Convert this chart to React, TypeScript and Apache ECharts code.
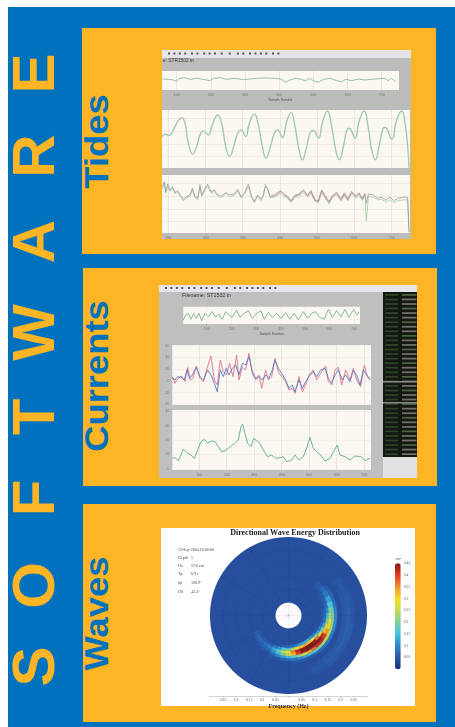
import React, { useEffect, useRef } from "react";
import * as echarts from "echarts";

// ---------- headings ----------
const sideLetters = ["S", "O", "F", "T", "W", "A", "R", "E"];
const sectionTitles = ["Tides", "Currents", "Waves"];
const waveInfo = [
  ["13-Sep-2004 16:00:00", ""],
  ["Depth", "5"],
  ["Hs", "57.6 cm"],
  ["Tp", "6.9 s"],
  ["θp", "168.9°"],
  ["DS", "42.3°"],
];
const sampleTickLabels = ["100", "200", "300", "400", "500", "600", "700"];

// ---------- tides: values in reading units ----------
const tideOverviewTicks = [65, 168, 270, 372, 475, 578, 680];
const tideTicks = [40, 152, 263, 375, 487, 598, 710];
const tideOverview = [[22,83],[40,82],[55,80],[65,75],[72,85],[90,87],[105,82],[125,85],[145,82],[165,78],[175,85],[195,87],[215,82],[240,85],[265,81],[285,83],[305,85],[330,86],[360,85],[378,83],[392,73],[405,80],[420,85],[440,82],[452,77],[462,85],[475,78],[490,73],[505,82],[525,85],[545,78],[560,75],[572,82],[590,78],[610,83],[630,80],[650,82],[670,84],[690,85],[700,78],[710,85],[722,75]];
const tideLevel = [[22,110],[30,117],[42,113],[55,130],[68,155],[80,167],[90,150],[100,90],[113,57],[125,80],[135,115],[145,127],[160,115],[172,145],[188,175],[200,150],[212,80],[224,50],[236,80],[248,120],[258,130],[272,110],[283,150],[298,178],[310,145],[322,80],[333,45],[345,75],[358,120],[368,130],[382,107],[395,155],[408,182],[420,140],[432,70],[442,40],[454,75],[465,120],[475,128],[490,105],[503,155],[517,187],[530,140],[543,65],[553,40],[565,80],[575,128],[582,135],[600,105],[612,155],[627,187],[640,135],[650,70],[661,40],[673,85],[683,130],[690,138],[710,102],[725,160],[740,187],[750,150],[758,80],[762,16]];
const tideLevelTicks = [49, 88, 127, 165];
const residualX = [22,28,32,38,45,52,60,68,76,85,95,105,112,120,128,135,140,150,158,168,178,188,200,212,225,238,248,258,268,280,290,298,308,318,325,331,338,345,358,370,378,388,398,408,420,432,445,458,468,480,490,500,510,522,532,545,558,568,578,590,602,612,622,630,634,640,655,668,680,692,705,716,730,745,758,762];
const residualDark = [160,175,145,168,150,160,142,148,135,122,130,135,155,130,125,160,135,155,167,145,150,135,132,142,135,138,152,130,140,168,130,115,135,122,135,160,155,130,132,140,145,135,128,115,132,135,148,132,145,118,115,148,130,112,130,140,120,138,120,142,130,138,122,138,110,138,135,125,128,120,128,118,125,128,128,22];
const residualGreen = [152,170,140,160,146,155,138,143,130,118,126,130,150,126,120,168,130,150,160,140,146,130,128,138,130,134,147,126,136,160,126,112,130,118,130,168,150,126,128,136,140,130,124,112,128,130,142,128,140,115,112,142,126,108,126,136,116,133,117,138,126,132,118,132,55,130,128,120,122,114,120,112,118,120,120,22];
const residualRedX = [350,358,370,378,388,398,408,420,432,445,458,468,480,490,500,510,522,532,545,558,568,578,590,602,612,622,630];
const residualRed = [134,134,144,147,137,130,118,134,138,150,134,148,120,117,150,134,115,133,143,123,141,123,145,133,141,125,140];
const residualTicks = [55, 93, 132, 170];

// ---------- currents ----------
const currentOverviewTicks = [155, 230, 303, 378, 450, 523, 597];
const currentTicks = [133, 215, 298, 380, 462, 545, 628];
const currentOverview = [[85,80],[92,95],[100,100],[108,82],[116,100],[124,85],[132,100],[140,78],[150,100],[160,90],[172,105],[182,88],[192,98],[202,82],[212,105],[222,95],[232,88],[245,110],[255,88],[268,100],[280,108],[292,85],[305,100],[318,108],[328,82],[340,103],[352,88],[365,100],[378,85],[392,102],[405,82],[418,100],[430,80],[445,105],[458,85],[470,100],[482,105],[494,88],[508,82],[520,112],[532,88],[545,108],[558,90],[570,112],[582,88],[596,112],[606,95],[612,105]];
const currentBlue = [[52,208],[60,200],[68,210],[78,208],[88,200],[96,230],[104,205],[112,215],[124,238],[135,210],[146,200],[158,230],[168,215],[178,190],[187,165],[196,230],[205,210],[214,235],[222,215],[232,235],[242,245],[252,215],[262,250],[272,245],[282,270],[292,225],[302,205],[312,210],[322,200],[332,215],[342,205],[352,230],[360,260],[370,235],[380,220],[392,200],[402,175],[412,185],[420,165],[432,200],[442,175],[452,195],[462,210],[475,225],[485,210],[497,230],[510,235],[520,205],[530,190],[540,215],[550,230],[562,200],[572,215],[585,195],[595,228],[605,215],[615,185],[625,230],[635,215],[645,202]];
const currentRed = [[52,210],[60,190],[70,205],[80,212],[90,195],[98,238],[106,200],[114,205],[124,242],[135,205],[145,195],[157,238],[168,272],[178,200],[187,185],[196,260],[205,225],[214,215],[224,250],[234,210],[245,275],[252,200],[262,238],[272,230],[282,280],[292,220],[302,200],[312,215],[320,175],[332,230],[340,200],[350,210],[360,265],[370,225],[380,210],[392,195],[402,170],[412,175],[420,160],[432,210],[442,165],[452,185],[462,215],[475,230],[485,200],[497,220],[512,242],[520,195],[530,185],[540,230],[550,238],[560,185],[572,230],[585,200],[595,235],[605,200],[617,180],[628,245],[637,210],[645,200]];
const currentRedBlueTicks = [162, 197, 232, 268];
const currentRedBlueLabels = ["-40", "-20", "0", "20", "40", "60"];
const currentRedBlueLabelTicks = [127, 162, 197, 232, 268, 303];
const currentSpeed = [[52,65],[60,67],[70,58],[78,75],[85,93],[95,83],[108,75],[118,65],[128,90],[138,115],[148,122],[158,110],[170,117],[180,115],[190,100],[200,85],[210,88],[220,95],[232,105],[240,110],[250,120],[258,160],[263,167],[270,140],[278,110],[288,100],[296,125],[305,118],[315,110],[325,90],[338,70],[350,75],[362,65],[375,67],[385,70],[395,55],[410,60],[420,75],[432,60],[445,70],[455,95],[465,128],[475,95],[485,85],[497,75],[510,57],[525,65],[535,85],[547,105],[555,75],[570,70],[585,60],[600,72],[618,70],[630,58],[645,65]];
const currentSpeedTicks = [77, 120, 163];
const currentSpeedLabels = ["0", "10", "20", "30", "40"];
const currentSpeedLabelTicks = [33, 77, 120, 163, 207];

// ---------- waves ----------
const backgroundEnergy = 0.04;
const crescentFreqs = [0.12, 0.13, 0.14, 0.15, 0.16, 0.17, 0.18];
const crescentAngles = [-150,-142.5,-135,-127.5,-120,-112.5,-105,-97.5,-90,-82.5,-75,-67.5,-60,-52.5,-45,-37.5,-30,-22.5,-15,-7.5,0,7.5,15,22.5,30,37.5,45];
const crescentF12 = [.04,.04,.04,.04,.04,.04,.05,.06,.07,.08,.1,.12,.13,.13,.11,.08,.06,.05,.04,.04,.04,.04,.04,.04,.04,.04,.04];
const crescentF13 = [.05,.05,.05,.05,.06,.08,.11,.15,.18,.22,.28,.32,.33,.32,.28,.2,.13,.09,.06,.05,.05,.05,.04,.04,.04,.04,.04];
const crescentF14 = [.06,.07,.07,.08,.1,.13,.18,.24,.29,.36,.42,.45,.45,.45,.44,.37,.28,.18,.12,.08,.07,.06,.05,.05,.05,.04,.04];
const crescentF15 = [.05,.06,.06,.07,.08,.11,.15,.21,.26,.32,.4,.44,.45,.45,.45,.45,.41,.32,.26,.2,.15,.11,.08,.06,.06,.05,.05];
const crescentF16 = [.04,.04,.05,.05,.05,.07,.09,.12,.14,.17,.21,.27,.33,.37,.41,.42,.4,.35,.31,.28,.24,.2,.16,.12,.09,.07,.05];
const crescentF17 = [.04,.04,.04,.04,.04,.05,.05,.06,.07,.08,.1,.12,.14,.17,.2,.23,.25,.24,.23,.21,.2,.18,.15,.12,.09,.07,.05];
const crescentF18 = [.04,.04,.04,.04,.04,.04,.04,.04,.04,.05,.05,.05,.05,.06,.07,.08,.09,.09,.1,.1,.1,.09,.08,.07,.06,.05,.04];
const swellFreqs = [0.215, 0.23, 0.245];
const swellAngles = [-60, -45, -30, -15, 0, 15, 30];
const swellF215 = [.045, .05, .05, .05, .05, .05, .045];
const swellF230 = [.05, .055, .06, .06, .06, .055, .05];
const swellF245 = [.045, .05, .05, .055, .05, .05, .045];
const colourbarColours = ["#1c2c78", "#2a58a8", "#2f86cc", "#45c4e0", "#7fcf9a", "#c8dc50", "#f8e020", "#f29030", "#e03a20", "#861818"];

const FONT = '"Liberation Sans", Arial, sans-serif';
const SERIF = '"Liberation Serif", "Times New Roman", serif';
const BLUE = "#0071bc";
const GOLD = "#fdb525";
const toolbarMarks = [3, 7, 11, 15, 20, 24, 29, 33, 37, 42, 48, 54, 58, 63, 67, 71, 75, 80, 84];
const sideRowCount = 36;
const sideLetterRows = [666.5, 585.5, 498, 417, 332.5, 241.5, 156, 73.5];

type Pt = number[];

function makeBaseOption() {
  const rect = (x: number, y: number, width: number, height: number, fill: string) => ({
    type: "rect", shape: { x, y, width, height }, style: { fill }, silent: true,
  });
  const rotated = (text: string, x: number, y: number, fontSize: number, fill: string, stretch = 1) => ({
    type: "text", x, y, rotation: Math.PI / 2, scaleX: stretch, silent: true,
    style: { text, x: 0, y: 0, fontFamily: FONT, fontWeight: "bold", fontSize, fill, align: "center", verticalAlign: "middle" },
  });
  return {
    animation: false,
    graphic: {
      elements: [
        rect(8, 7, 447, 720, BLUE),
        rect(82, 28, 354, 226, GOLD),
        rect(83, 268, 354, 218, GOLD),
        rect(83, 504, 353, 218, GOLD),
        rect(162, 50, 249, 189, "#bcbcbc"),
        rect(162, 50, 249, 8, "#e4e4e8"),
        rect(159, 285, 258, 193, "#bfbfbf"),
        rect(159, 285, 258, 7, "#e6e6ea"),
        rect(383, 457, 34, 21, "#e2e2e4"),
        rect(161, 528, 254, 178, "#ffffff"),
        ...sideLetters.map((l, k) => rotated(l, 33, sideLetterRows[k], 60, GOLD)),
        rotated(sectionTitles[0], 96, 141.5, 34, BLUE, 1.07),
        rotated(sectionTitles[1], 96, 376, 34, BLUE, 1.07),
        rotated(sectionTitles[2], 96, 613.5, 34, BLUE, 1.07),
      ],
    },
  };
}

function makeScreensOption() {
  const grids: any[] = [];
  const xAxes: any[] = [];
  const yAxes: any[] = [];
  const series: any[] = [];

  function plot(o: {
    left: number; top: number; right: number; bottom: number;
    xRange: number[]; yRange: number[]; xTicks: number[]; yTicks?: number[];
    xLabels?: string[]; yLabelTicks?: number[]; yLabels?: string[]; bg?: string;
    hLine?: string; vLine?: string; name?: string;
  }) {
    const i = grids.length;
    grids.push({
      show: true, backgroundColor: o.bg || "#fbf8f2", borderWidth: 0,
      left: o.left, top: o.top, width: o.right - o.left, height: o.bottom - o.top,
    });
    const xl = o.xLabels;
    xAxes.push({
      type: "value", gridIndex: i, min: o.xRange[0], max: o.xRange[1],
      axisLine: { show: false },
      axisTick: { show: false, customValues: o.xTicks },
      splitLine: { show: true, lineStyle: { color: o.vLine || "#e2dfd8", width: 0.7 } },
      axisLabel: {
        show: !!xl, customValues: o.xTicks, fontSize: 3.6, color: "#777", margin: 3, fontFamily: FONT,
        formatter: (v: number) => (xl ? xl[o.xTicks.indexOf(v)] ?? "" : ""),
      },
      name: o.name, nameLocation: "middle", nameGap: 8,
      nameTextStyle: { fontSize: 3.4, color: "#555", fontFamily: FONT },
    });
    const yt = o.yLabelTicks || o.yTicks || [];
    const yl = o.yLabels;
    yAxes.push({
      type: "value", gridIndex: i, min: o.yRange[0], max: o.yRange[1],
      axisLine: { show: false },
      axisTick: { show: false, customValues: o.yLabelTicks || o.yTicks || [] },
      splitLine: { show: !!(o.yTicks && o.yTicks.length), lineStyle: { color: o.hLine || "#f0e2da", width: 0.7 } },
      axisLabel: {
        show: !!yl, customValues: yt, fontSize: 3.4, color: "#777", margin: 3, fontFamily: FONT,
        formatter: (v: number) => (yl ? yl[yt.indexOf(v)] ?? "" : ""),
      },
    });
    return i;
  }
  const line = (i: number, data: Pt[], color: string, width: number, smooth: number | boolean = false, z = 2) => {
    series.push({
      type: "line", xAxisIndex: i, yAxisIndex: i, data, showSymbol: false, silent: true, smooth, z,
      lineStyle: { color, width },
    });
  };
  const zip = (xs: number[], ys: number[]) => xs.map((x, k) => [x, ys[k]]);

  // tides
  const t1 = plot({ left: 162, top: 71, right: 399, bottom: 90, xRange: [21, 732], yRange: [50, 107], xTicks: tideOverviewTicks, xLabels: sampleTickLabels, name: "Sample Number" });
  line(t1, tideOverview, "#8fbb9f", 0.9);
  const t2 = plot({ left: 162, top: 110, right: 410, bottom: 168, xRange: [21, 765], yRange: [15, 190], xTicks: tideTicks, yTicks: tideLevelTicks });
  line(t2, tideLevel, "#a3c8b9", 1.4, 0.5);
  const t3 = plot({ left: 162, top: 175, right: 410, bottom: 233, xRange: [21, 765], yRange: [20, 195], xTicks: tideTicks, yTicks: residualTicks, xLabels: sampleTickLabels });
  line(t3, zip(residualX, residualGreen), "#a6caa2", 0.8);
  line(t3, zip(residualRedX, residualRed), "#c08a8e", 0.8, false, 3);
  line(t3, zip(residualX, residualDark), "#85848a", 0.6);

  // currents
  const c1 = plot({ left: 183.3, top: 306.7, right: 360, bottom: 324, xRange: [85, 615], yRange: [68, 120], xTicks: currentOverviewTicks, xLabels: sampleTickLabels, name: "Sample Number", vLine: "#e8e8e4" });
  line(c1, currentOverview, "#6fa98a", 0.8);
  const c2 = plot({ left: 172.3, top: 345, right: 371, bottom: 405, xRange: [52, 648], yRange: [125, 305], xTicks: currentTicks, yTicks: currentRedBlueTicks, yLabelTicks: currentRedBlueLabelTicks, yLabels: currentRedBlueLabels, hLine: "#ececec" });
  line(c2, currentRed, "#e2708c", 0.9);
  line(c2, currentBlue, "#5a78bc", 0.9);
  const c3 = plot({ left: 172.3, top: 410, right: 371, bottom: 470, xRange: [52, 648], yRange: [30, 210], xTicks: currentTicks, yTicks: currentSpeedTicks, yLabelTicks: currentSpeedLabelTicks, yLabels: currentSpeedLabels, xLabels: sampleTickLabels, hLine: "#ececec" });
  line(c3, currentSpeed, "#5cab92", 0.9);

  // colour bar axis
  const cbGrid = grids.length;
  grids.push({ left: 400.7, top: 563.3, width: 1, height: 105.7 });
  xAxes.push({ type: "value", gridIndex: cbGrid, show: false, min: 0, max: 1 });
  yAxes.push({
    type: "value", gridIndex: cbGrid, position: "right", min: 0, max: 0.45, interval: 0.05,
    axisLine: { show: false }, axisTick: { show: false }, splitLine: { show: false },
    axisLabel: {
      fontSize: 3.8, color: "#555", margin: 2, fontFamily: SERIF,
      formatter: (v: number) => (v === 0 ? "" : String(+v.toFixed(2))),
    },
  });

  // frequency axis
  const fGrid = grids.length;
  grids.push({ left: 210, top: 695, width: 157, height: 1 });
  xAxes.push({
    type: "value", gridIndex: fGrid, min: -0.3, max: 0.3, interval: 0.05,
    axisLine: { show: true, onZero: false, lineStyle: { color: "#aaa", width: 0.5 } },
    axisTick: { show: true, length: 1.5, lineStyle: { color: "#888", width: 0.4 } },
    splitLine: { show: false },
    axisLabel: {
      fontSize: 3.8, color: "#555", margin: 2, fontFamily: SERIF,
      formatter: (v: number) => {
        const a = Math.abs(v);
        return a < 0.001 || a > 0.29 ? "" : String(+a.toFixed(2));
      },
    },
    name: "Frequency (Hz)", nameLocation: "middle", nameGap: 6,
    nameTextStyle: { fontSize: 6, fontWeight: "bold", fontFamily: SERIF, color: "#333" },
  });
  yAxes.push({ type: "value", gridIndex: fGrid, show: false, min: 0, max: 1 });

  // wave spectrum cells: [frequency, angle, energy, frequency width, angle width]
  const cells: number[][] = [[0.175, 180, backgroundEnergy, 0.25, 360]];
  [swellF215, swellF230, swellF245].forEach((row, r) =>
    row.forEach((v, a) => cells.push([swellFreqs[r], swellAngles[a], v, 0.015, 15])),
  );
  [crescentF12, crescentF13, crescentF14, crescentF15, crescentF16, crescentF17, crescentF18].forEach((row, r) =>
    row.forEach((v, a) => cells.push([crescentFreqs[r], crescentAngles[a], v, 0.01, 7.5])),
  );
  const waveSeriesIndex = series.length;
  series.push({
    type: "custom", coordinateSystem: "polar", polarIndex: 0, silent: true, z: 2,
    encode: { radius: 0, angle: 1 }, data: cells,
    renderItem: (params: any, api: any) => {
      const f = api.value(0), a = api.value(1), df = api.value(3), da = api.value(4);
      const cs = params.coordSys;
      const dist = (v: number) => {
        const p = api.coord([v, a]);
        return Math.hypot(p[0] - cs.cx, p[1] - cs.cy);
      };
      const color = api.visual("color");
      const full = da >= 360;
      return {
        type: "sector",
        shape: {
          cx: cs.cx, cy: cs.cy, r0: dist(f - df / 2), r: dist(f + df / 2),
          startAngle: full ? 0 : (-(a + da / 2) * Math.PI) / 180,
          endAngle: full ? Math.PI * 2 : (-(a - da / 2) * Math.PI) / 180,
          clockwise: true,
        },
        style: { fill: color, stroke: full ? undefined : color, lineWidth: full ? 0 : 0.4 },
      };
    },
  });

  // graphics above the plots
  const elements: any[] = [];
  const rect = (x: number, y: number, width: number, height: number, fill: string) =>
    elements.push({ type: "rect", z: 50, silent: true, shape: { x, y, width, height }, style: { fill } });
  const text = (t: string, x: number, y: number, fontSize: number, fill: string, fontFamily: string, fontWeight = "normal", align = "left") =>
    elements.push({ type: "text", z: 60, silent: true, x, y, style: { text: t, fontSize, fill, fontFamily, fontWeight, align, verticalAlign: "middle" } });

  toolbarMarks.forEach((m) => {
    rect(164 + m * 1.35, 52.5, 2, 2, "#55555c");
    rect(161 + m * 1.35, 287, 2, 2, "#55555c");
  });
  text("e: STR1502.in", 163, 60.5, 4.8, "#333", FONT);
  text("Filename: ST1502.in", 182, 295, 5.3, "#333", FONT);

  // instrument side table
  rect(383, 292, 34, 165, "#131810");
  for (let k = 0; k < sideRowCount; k++) {
    const y = 294 + k * 4.55;
    rect(385, y, 13, 1.8, "#2e4228");
    rect(402, y, 14.5, 1.8, k % 3 === 0 ? "#4e6446" : "#6e716a");
  }
  rect(383, 381, 34, 1.4, "#8a8a8a");
  rect(383, 402, 34, 1.4, "#8a8a8a");

  text("Directional Wave Energy Distribution", 295, 532, 8, "#222", SERIF, "bold", "center");
  const infoY = [549, 557, 565, 573, 582, 591];
  waveInfo.forEach((row, k) => {
    text(row[0], 178, infoY[k], 4, "#444", SERIF);
    if (row[1]) text(row[1], 191, infoY[k], 4, "#444", SERIF);
  });
  text("cm²", 395.5, 558.5, 3.6, "#555", SERIF);

  return {
    animation: false,
    grid: grids,
    xAxis: xAxes,
    yAxis: yAxes,
    polar: { center: [288.5, 615.5], radius: [0, 78.5] },
    radiusAxis: {
      min: 0, max: 0.3, interval: 0.05, z: 5,
      axisLine: { show: false }, axisTick: { show: false }, axisLabel: { show: false },
      splitLine: { show: true, lineStyle: { color: "rgba(20,40,110,0.15)", width: 0.5 } },
    },
    angleAxis: {
      min: 0, max: 360, interval: 30, startAngle: 0, clockwise: false, z: 5,
      axisLine: { show: false }, axisTick: { show: false }, axisLabel: { show: false },
      splitLine: { show: true, lineStyle: { color: "rgba(20,40,110,0.15)", width: 0.5 } },
    },
    visualMap: {
      type: "continuous", show: true, seriesIndex: waveSeriesIndex, dimension: 2,
      min: 0, max: 0.45, calculable: false, realtime: false, padding: 0,
      left: 395, top: 563.3, itemWidth: 5.7, itemHeight: 105.7, text: ["", ""], textGap: 0,
      inRange: { color: colourbarColours },
    },
    series,
    graphic: { elements },
  };
}

export default function App() {
  const baseRef = useRef<HTMLDivElement>(null);
  const screensRef = useRef<HTMLDivElement>(null);
  useEffect(() => {
    document.body.style.margin = "0";
    document.body.style.background = "#fff";
    document.documentElement.style.overflow = "hidden";
    const base = echarts.init(baseRef.current!, undefined, { renderer: "svg", width: 455, height: 727 });
    const screens = echarts.init(screensRef.current!, undefined, { renderer: "svg", width: 455, height: 727 });
    base.setOption(makeBaseOption());
    screens.setOption(makeScreensOption());
    return () => {
      base.dispose();
      screens.dispose();
    };
  }, []);
  const layer: React.CSSProperties = { position: "absolute", left: 0, top: 0, width: 455, height: 727 };
  return (
    <div style={{ position: "relative", width: 455, height: 727, overflow: "hidden" }}>
      <div ref={baseRef} style={layer} />
      <div ref={screensRef} style={{ ...layer, filter: "blur(0.6px)" }} />
    </div>
  );
}
